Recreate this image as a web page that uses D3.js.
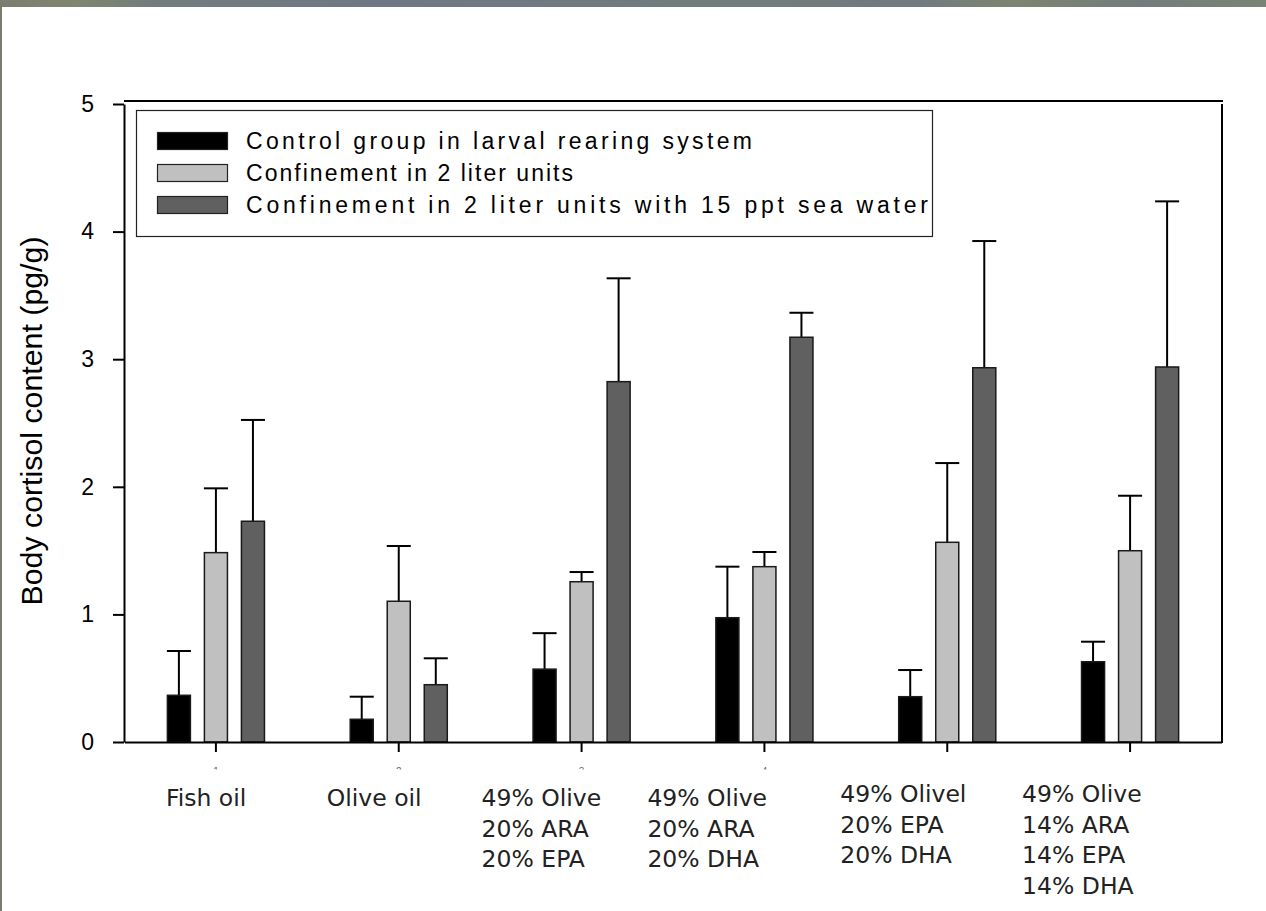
<!DOCTYPE html>
<html><head><meta charset="utf-8">
<script src="https://cdn.jsdelivr.net/npm/d3@7"></script>
<style>html,body{margin:0;padding:0;background:#fff;}svg{display:block;}</style>
</head><body>
<script>
// ---- data ----
const categories = ["Fish oil", "Olive oil", "49% Olive|20% ARA|20% EPA", "49% Olive|20% ARA|20% DHA", "49% Olivel|20% EPA|20% DHA", "49% Olive|14% ARA|14% EPA|14% DHA"];
const seriesNames = ["Control group in larval rearing system", "Confinement in 2 liter units", "Confinement in 2 liter units with 15 ppt sea water"];
const controlMean = [0.366, 0.178, 0.571, 0.974, 0.355, 0.629];
const controlErr  = [0.347, 0.177, 0.282, 0.400, 0.209, 0.157];
const confineMean = [1.484, 1.103, 1.256, 1.374, 1.565, 1.499];
const confineErr  = [0.504, 0.433, 0.076, 0.115, 0.621, 0.431];
const seaMean     = [1.730, 0.449, 2.824, 3.172, 2.933, 2.939];
const seaErr      = [0.794, 0.207, 0.810, 0.192, 0.993, 1.298];
const yTicks = [0, 1, 2, 3, 4, 5];
const xTickLabels = ["1", "2", "3", "4", "5", "6"];
const yLabel = "Body cortisol content (pg/g)";

// ---- layout / style ----
const W = 1266, H = 911;
const colors = ["#000000", "#c0c0c0", "#606060"];
const labelDx = [-50, -72, -100, -117, -107, -108];
const labelBaseline = [806, 806, 806, 806, 802, 802];
const legendTextLen = [506, 327, 682];
const visibleTickLabels = 4; // the rest are hidden in the reference

const svg = d3.select("body").append("svg").attr("width", W).attr("height", H);
const defs = svg.append("defs");
const grad = defs.append("linearGradient").attr("id", "topg");
[["0", "#7b7d6f"], ["0.06", "#80856f"], ["0.12", "#737c7c"], ["0.3", "#6d7884"], ["0.45", "#6f7a80"],
 ["0.6", "#727c7a"], ["0.72", "#707a80"], ["0.8", "#7e8470"], ["0.9", "#737c7c"], ["1", "#7a8474"]]
  .forEach(([o, c]) => grad.append("stop").attr("offset", o).attr("stop-color", c));
defs.append("clipPath").attr("id", "tickclip").append("rect").attr("x", 124).attr("y", 764).attr("width", 700).attr("height", 5.5);

svg.append("rect").attr("width", W).attr("height", H).attr("fill", "#fff");
svg.append("rect").attr("x", 0).attr("y", 0).attr("width", W).attr("height", 7).attr("fill", "url(#topg)");
svg.append("rect").attr("x", 0).attr("y", 0).attr("width", 2).attr("height", H).attr("fill", "#7b7b6e");

const y = d3.scaleLinear().domain([0, 5]).range([742, 104]);
const x0 = d3.scaleBand().domain(categories).range([124.5, 1221.5]).paddingInner(0).paddingOuter(0);
const x1 = d3.scaleBand().domain(seriesNames).range([0, x0.bandwidth()]).paddingInner(0.378).paddingOuter(1.158);

const means = [controlMean, confineMean, seaMean];
const errs = [controlErr, confineErr, seaErr];
const rows = [];
categories.forEach((c, i) => seriesNames.forEach((s, j) => rows.push({c, s, j, v: means[j][i], e: errs[j][i]})));

// error bars
const eb = svg.append("g");
rows.forEach(d => {
  const cx = x0(d.c) + x1(d.s) + x1.bandwidth() / 2;
  eb.append("line").attr("x1", cx).attr("x2", cx).attr("y1", y(d.v)).attr("y2", y(d.v + d.e))
    .attr("stroke", "#000").attr("stroke-width", 2);
  eb.append("line").attr("x1", cx - x1.bandwidth() / 2 - 0.5).attr("x2", cx + x1.bandwidth() / 2 + 0.5)
    .attr("y1", y(d.v + d.e)).attr("y2", y(d.v + d.e)).attr("stroke", "#000").attr("stroke-width", 2);
});
// bars
svg.append("g").selectAll("rect").data(rows).join("rect")
  .attr("x", d => x0(d.c) + x1(d.s))
  .attr("y", d => y(d.v))
  .attr("width", x1.bandwidth())
  .attr("height", d => y(0) - y(d.v))
  .attr("fill", d => colors[d.j])
  .attr("stroke", "#1a1a1a").attr("stroke-width", 1.5);

// axes
const yAxis = d3.axisLeft(y).tickValues(yTicks).tickSize(11).tickSizeOuter(0).tickPadding(19).tickFormat(d3.format("d"));
const gy = svg.append("g").attr("transform", "translate(124,0)").call(yAxis);
gy.select(".domain").attr("stroke", "#000").attr("stroke-width", 2);
gy.selectAll(".tick line").attr("stroke", "#000").attr("stroke-width", 2);
gy.selectAll(".tick text").attr("font-family", "Liberation Sans, Arial, sans-serif").attr("font-size", 23).attr("fill", "#000");

const xAxis = d3.axisBottom(x0).tickSize(10).tickSizeOuter(0).tickFormat((d, i) => xTickLabels[i]);
const gx = svg.append("g").attr("transform", "translate(0,742)").call(xAxis);
gx.select(".domain").attr("stroke", "#000").attr("stroke-width", 2);
gx.selectAll(".tick line").attr("stroke", "#000").attr("stroke-width", 2);
// only a sliver of the tick numbers is visible in the reference
const tclip = svg.append("g").attr("clip-path", "url(#tickclip)");
gx.selectAll(".tick").each(function (d, i) {
  const t = d3.select(this).select("text");
  if (i < visibleTickLabels) {
    tclip.append("text").attr("x", x0(d) + x0.bandwidth() / 2).attr("y", 775).attr("text-anchor", "middle")
      .attr("font-family", "Liberation Sans, Arial, sans-serif").attr("font-size", 10).attr("fill", "#666").text(t.text());
  }
  t.remove();
});

// frame top & right
svg.append("line").attr("x1", 124).attr("x2", 1223).attr("y1", 101).attr("y2", 101).attr("stroke", "#000").attr("stroke-width", 2);
svg.append("line").attr("x1", 1222).attr("x2", 1222).attr("y1", 104).attr("y2", 743).attr("stroke", "#000").attr("stroke-width", 2);

// y label
svg.append("text").attr("transform", "translate(42,421) rotate(-90)").attr("text-anchor", "middle")
  .attr("font-family", "Liberation Sans, Arial, sans-serif").attr("font-size", 29).attr("fill", "#000")
  .attr("textLength", 369).attr("lengthAdjust", "spacingAndGlyphs")
  .text(yLabel);

// category labels
categories.forEach((c, i) => {
  const t = svg.append("text").attr("font-family", "DejaVu Sans, Verdana, sans-serif").attr("font-size", 23.5).attr("fill", "#222");
  c.split("|").forEach((line, k) => {
    t.append("tspan").attr("x", x0(c) + x0.bandwidth() / 2 + labelDx[i]).attr("y", labelBaseline[i] + k * 30.5).text(line);
  });
});

// legend
const lg = svg.append("g");
lg.append("rect").attr("x", 136.5).attr("y", 110.5).attr("width", 796).attr("height", 126)
  .attr("fill", "#fff").attr("stroke", "#222").attr("stroke-width", 1.2);
seriesNames.forEach((s, j) => {
  lg.append("rect").attr("x", 157.5).attr("y", 132.5 + j * 32).attr("width", 70).attr("height", 17)
    .attr("fill", colors[j]).attr("stroke", "#222").attr("stroke-width", 1.2);
  lg.append("text").attr("x", 246).attr("y", 149 + j * 32)
    .attr("font-family", "Liberation Sans Narrow, Arial Narrow, Liberation Sans, sans-serif").attr("font-size", 23)
    .attr("fill", "#000").attr("textLength", legendTextLen[j]).attr("lengthAdjust", "spacing").text(s);
});
</script>
</body></html>
